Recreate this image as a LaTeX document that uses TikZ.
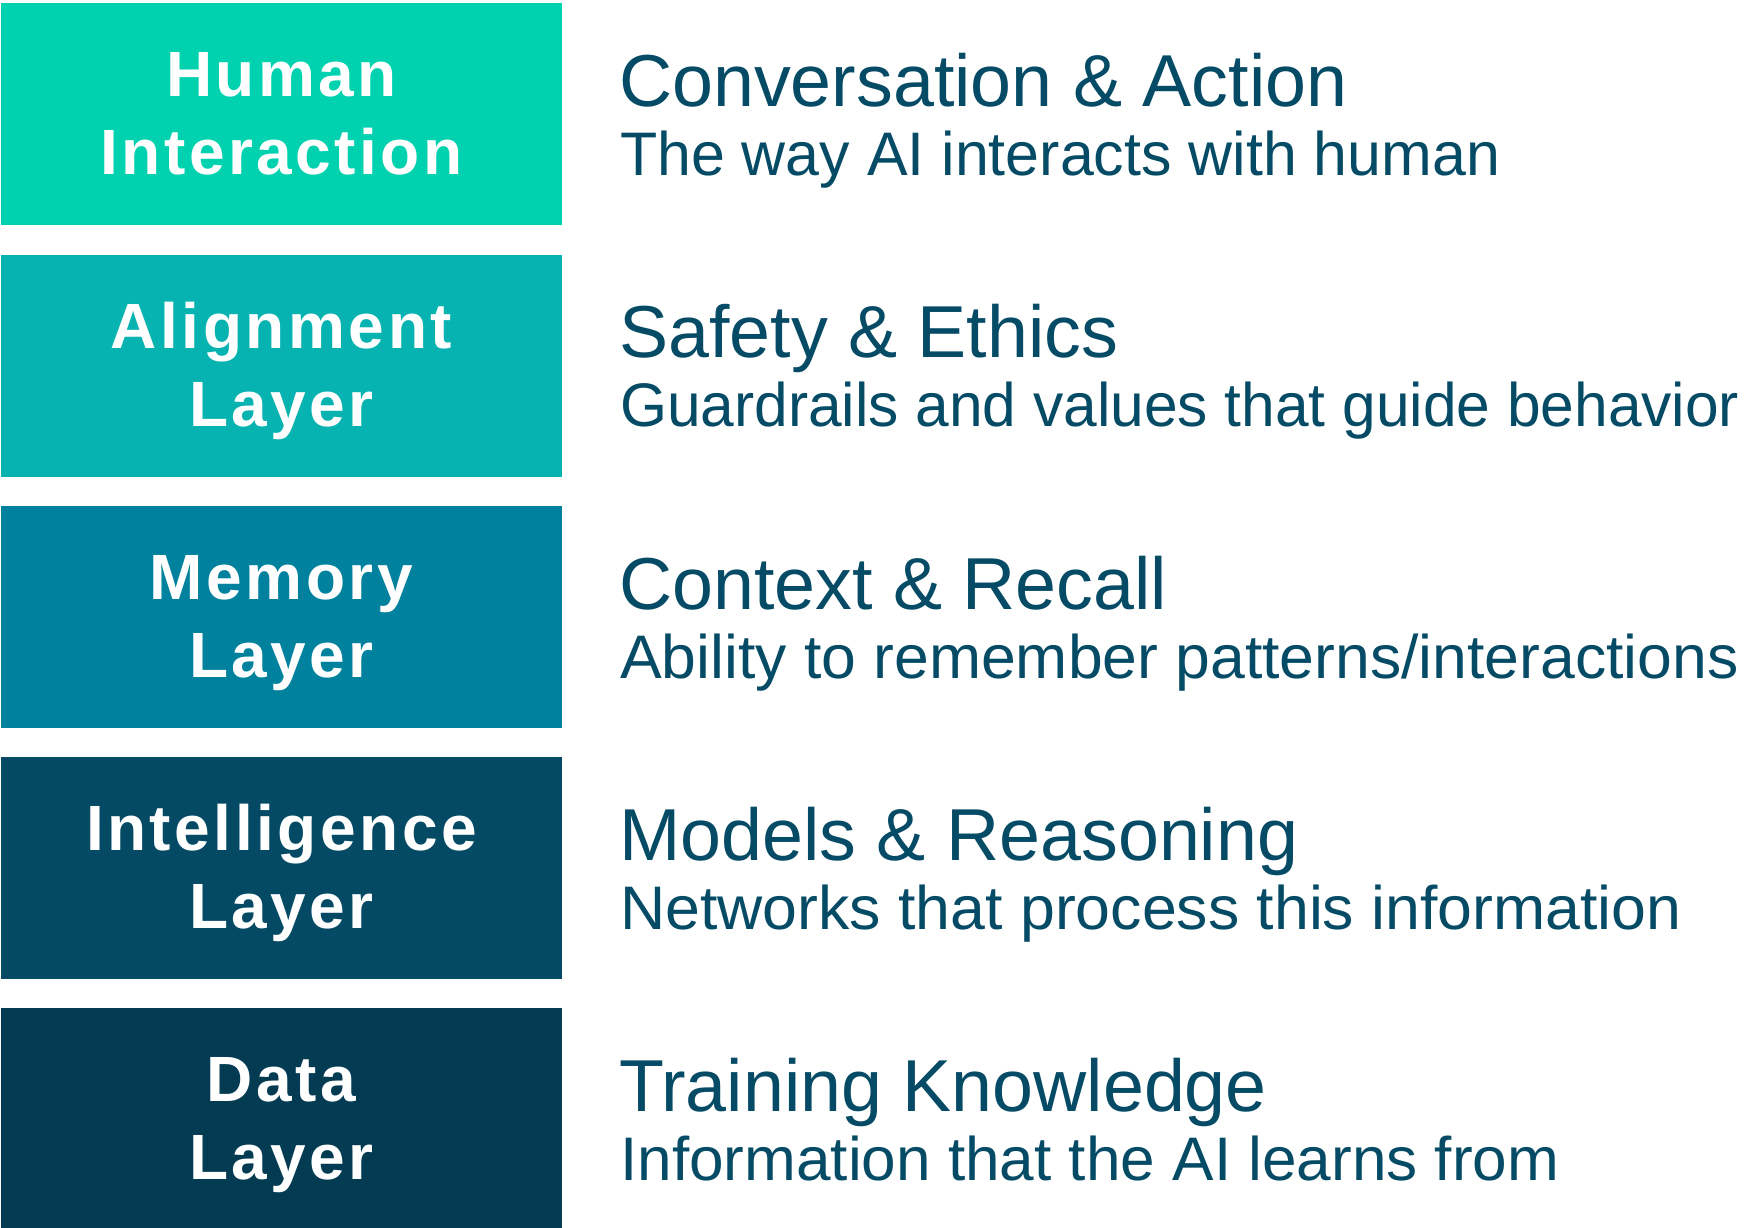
\documentclass[tikz,border=0pt]{standalone}
\usepackage{fontspec}
\usepackage{graphicx}
\setmainfont{Liberation Sans}
\newfontfamily\boxfont[LetterSpace=5.5]{Liberation Sans}
\newfontfamily\subfont{Liberation Sans}
\definecolor{cA}{HTML}{00D1AE}
\definecolor{cB}{HTML}{06B3B0}
\definecolor{cC}{HTML}{00819D}
\definecolor{cD}{HTML}{044A64}
\definecolor{cE}{HTML}{033B53}
\definecolor{txt}{HTML}{054B66}
\newcommand{\hsq}[2]{\scalebox{#1}[1]{#2}}
\tikzset{
  layerbox/.style={rectangle, draw=none, inner sep=0pt, minimum width=561pt, minimum height=222pt, anchor=center},
  boxtext/.style={anchor=base, inner sep=0pt, text=white, font=\boxfont\bfseries\fontsize{64}{64}\selectfont},
  titletext/.style={anchor=base west, inner sep=0pt, text=txt, font=\fontsize{73.6}{74}\selectfont},
  subtext/.style={anchor=base west, inner sep=0pt, text=txt, font=\subfont\fontsize{61.5}{62}\selectfont}
}
\begin{document}
\begin{tikzpicture}[x=1pt,y=-1pt]
\useasboundingbox[fill=white] (0,0) rectangle (1748,1228);
% boxes
\node[layerbox, fill=cA] (b1) at (281.5,114.3) {};
\node[layerbox, fill=cB] (b2) at (281.5,365.5) {};
\node[layerbox, fill=cC] (b3) at (281.5,616.7) {};
\node[layerbox, fill=cD] (b4) at (281.5,867.9) {};
\node[layerbox, fill=cE, minimum height=220pt] (b5) at (281.5,1118) {};
% box labels
\node[boxtext] (l1a) at (281.5,97) {Human};
\node[boxtext] (l1b) at (281.5,175) {Interaction};
\node[boxtext] (l2a) at (281.5,348.2) {Alignment};
\node[boxtext] (l2b) at (281.5,426.2) {Layer};
\node[boxtext] (l3a) at (281.5,599.4) {Memory};
\node[boxtext] (l3b) at (281.5,677.4) {Layer};
\node[boxtext] (l4a) at (281.5,850.6) {Intelligence};
\node[boxtext] (l4b) at (281.5,928.6) {Layer};
\node[boxtext] (l5a) at (281.5,1101.8) {Data};
\node[boxtext] (l5b) at (281.5,1179.8) {Layer};
% right texts
\node[titletext] (t1) at (619,106.7) {Conversation \& Action};
\node[subtext] (s1) at (620,175.7) {\hsq{0.99}{The way AI interacts with human}};
\node[titletext] (t2) at (619,357.9) {Safety \& Ethics};
\node[subtext] (s2) at (620,426.9) {\hsq{0.983}{Guardrails and values that guide behavior}};
\node[titletext] (t3) at (619,609.1) {Context \& Recall};
\node[subtext] (s3) at (620,678.1) {\hsq{1.016}{Ability to remember patterns/interactions}};
\node[titletext] (t4) at (619,860.3) {Models \& Reasoning};
\node[subtext] (s4) at (620,929.3) {\hsq{1.018}{Networks that process this information}};
\node[titletext] (t5) at (619,1111.5) {Training Knowledge};
\node[subtext] (s5) at (620,1180.5) {\hsq{1.01}{Information that the AI learns from}};
\end{tikzpicture}
\end{document}
